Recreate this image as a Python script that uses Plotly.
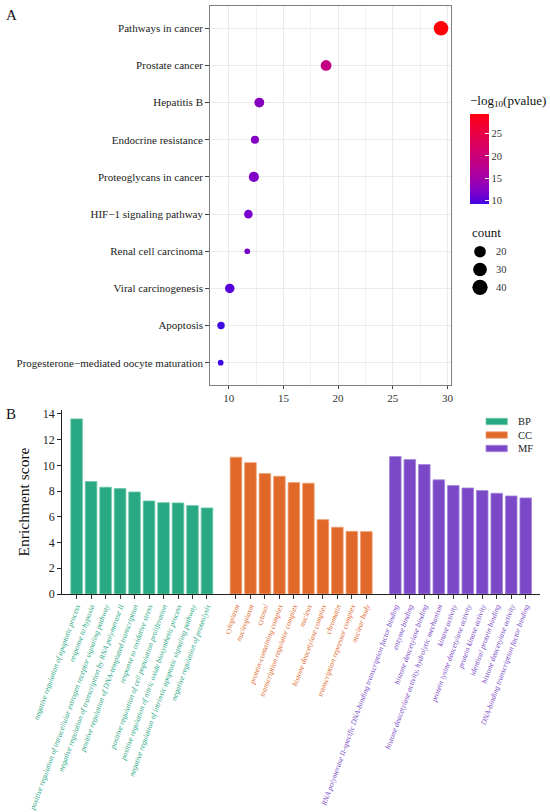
import numpy as np
import plotly.graph_objects as go

W, H = 550, 812
FONT = "Liberation Serif"

# ---------------- Panel A data (KEGG bubble chart) ----------------
kegg_terms = [
    "Pathways in cancer",
    "Prostate cancer",
    "Hepatitis B",
    "Endocrine resistance",
    "Proteoglycans in cancer",
    "HIF\u22121 signaling pathway",
    "Renal cell carcinoma",
    "Viral carcinogenesis",
    "Apoptosis",
    "Progesterone\u2212mediated oocyte maturation",
]
kegg_neglog10p = [29.4, 18.9, 12.8, 12.4, 12.3, 11.8, 11.7, 10.1, 9.3, 9.27]
kegg_count = [35, 17, 14, 10, 15, 11, 8, 13, 9, 8]
count_legend = [20, 30, 40]
cbar_ticks = [10, 15, 20, 25]

# ---------------- Panel B data (GO enrichment bars) ----------------
go_groups = ["BP", "CC", "MF"]
bp_terms = [
    "negative regulation of apoptotic process",
    "response to hypoxia",
    "positive regulation of intracellular estrogen receptor signaling pathway",
    "negative regulation of transcription by RNA polymerase II",
    "positive regulation of DNA-templated transcription",
    "response to oxidative stress",
    "positive regulation of cell population proliferation",
    "positive regulation of nitric oxide biosynthetic process",
    "negative regulation of intrinsic apoptotic signaling pathway",
    "negative regulation of proteolysis",
]
bp_scores = [13.61, 8.74, 8.30, 8.19, 7.93, 7.23, 7.10, 7.08, 6.87, 6.69]
cc_terms = [
    "cytoplasm",
    "nucleoplasm",
    "cytosol",
    "protein-containing complex",
    "transcription regulator complex",
    "nucleus",
    "histone deacetylase complex",
    "chromatin",
    "transcription repressor complex",
    "nuclear body",
]
cc_scores = [10.63, 10.21, 9.36, 9.15, 8.66, 8.61, 5.78, 5.19, 4.87, 4.85]
mf_terms = [
    "RNA polymerase II-specific DNA-binding transcription factor binding",
    "enzyme binding",
    "histone deacetylase binding",
    "histone deacetylase activity, hydrolytic mechanism",
    "kinase activity",
    "protein lysine deacetylase activity",
    "protein kinase activity",
    "identical protein binding",
    "histone deacetylase activity",
    "DNA-binding transcription factor binding",
]
mf_scores = [10.68, 10.45, 10.06, 8.87, 8.43, 8.24, 8.04, 7.83, 7.62, 7.47]

group_terms = [bp_terms, cc_terms, mf_terms]
group_scores = [bp_scores, cc_scores, mf_scores]
group_colors = ["#29a884", "#e0692a", "#7b49c7"]
group_edges = ["#6cc7a9", "#efa073", "#a486dc"]


# ---------------- helpers ----------------
def px_x(p):
    return p / W


def px_y(p):
    return 1 - p / H


def _lin(c):
    c = c / 255.0
    return np.where(c <= 0.04045, c / 12.92, ((c + 0.055) / 1.055) ** 2.4)


def _gam(c):
    c = np.clip(c, 0, 1)
    return np.where(c <= 0.0031308, 12.92 * c, 1.055 * c ** (1 / 2.4) - 0.055) * 255


M = np.array([[0.4124, 0.3576, 0.1805], [0.2126, 0.7152, 0.0722], [0.0193, 0.1192, 0.9505]])
WP = np.array([0.95047, 1.0, 1.08883])
d = 6 / 29


def rgb2lab(rgb):
    xyz = M @ _lin(np.array(rgb, float)) / WP
    f = np.where(xyz > d ** 3, np.cbrt(xyz), xyz / (3 * d * d) + 4 / 29)
    return np.array([116 * f[1] - 16, 500 * (f[0] - f[1]), 200 * (f[1] - f[2])])


def lab2rgb(lab):
    fy = (lab[0] + 16) / 116
    fx = fy + lab[1] / 500
    fz = fy - lab[2] / 200
    f = np.array([fx, fy, fz])
    xyz = np.where(f > d, f ** 3, 3 * d * d * (f - 4 / 29)) * WP
    rgb = _gam(np.linalg.solve(M, xyz))
    return "rgb(%d,%d,%d)" % tuple(np.round(rgb).astype(int))


lab_lo, lab_hi = rgb2lab([62, 8, 228]), rgb2lab([255, 0, 10])
colorscale = [[t, lab2rgb(lab_lo + (lab_hi - lab_lo) * t)] for t in np.linspace(0, 1, 21)]


def dot_size(c):
    return 5.7 + 1.7 * np.sqrt(np.maximum(np.asarray(c, float) - 8, 0))


fig = go.Figure()

# ---------------- Panel A ----------------
fig.add_trace(go.Scatter(
    x=kegg_neglog10p, y=kegg_terms, mode="markers", xaxis="x", yaxis="y",
    marker=dict(
        size=dot_size(kegg_count), color=kegg_neglog10p, colorscale=colorscale,
        cmin=min(kegg_neglog10p), cmax=max(kegg_neglog10p), line=dict(width=0),
        opacity=1, showscale=True,
        colorbar=dict(
            x=px_x(470), xanchor="left", xref="paper", xpad=0,
            y=px_y(204), yanchor="bottom", ypad=0,
            len=112 / H, lenmode="fraction", thickness=19,
            outlinewidth=0, tickvals=cbar_ticks, ticks="inside", ticklen=4,
            tickcolor="white", tickwidth=1,
            tickfont=dict(family=FONT, size=10.5, color="#333"),
            title=dict(text="\u2212log<sub>10</sub>(pvalue)", side="top",
                       font=dict(family=FONT, size=13, color="#111")),
        ),
    ),
    showlegend=False, hoverinfo="x+y",
))

# size legend (inset)
fig.add_trace(go.Scatter(
    x=[0] * len(count_legend), y=[str(c) for c in count_legend], mode="markers",
    xaxis="x5", yaxis="y5",
    marker=dict(size=dot_size(count_legend), color="#000000", opacity=1, line=dict(width=0)),
    showlegend=False, hoverinfo="skip",
))

# ---------------- Panel B ----------------
axis_names = ["x2", "x3", "x4"]
positions = []
for g, (terms, scores) in enumerate(zip(group_terms, group_scores)):
    pos = [g * (len(terms) + 1) + i for i in range(len(terms))]
    positions.append(pos)
    fig.add_trace(go.Bar(
        x=pos, y=scores, width=0.8, xaxis=axis_names[g], yaxis="y2",
        marker=dict(color=group_colors[g], line=dict(color=group_edges[g], width=0.8)),
        name=go_groups[g], showlegend=False, hovertext=terms,
    ))

n_slots = sum(len(t) for t in group_terms) + len(group_terms) - 1
xrange_b = [-1, n_slots]

layout = dict(
    template="none",
    width=W, height=H, autosize=False,
    margin=dict(l=0, r=0, t=0, b=0, pad=0),
    paper_bgcolor="white", plot_bgcolor="white",
    font=dict(family=FONT, color="#222"),
    barmode="overlay", showlegend=False,
    xaxis=dict(
        domain=[px_x(210.4), px_x(451.4)], anchor="y", automargin=False,
        range=[8.33, 30.35], tick0=10, dtick=5,
        showgrid=True, gridcolor="#ebebeb", gridwidth=1,
        minor=dict(dtick=2.5, tick0=10, showgrid=True, gridcolor="#f2f2f2", gridwidth=0.8),
        zeroline=False, showline=True, mirror=True, linecolor="#7f7f7f", linewidth=1.4,
        ticks="outside", ticklen=3, tickcolor="#444",
        tickfont=dict(family=FONT, size=11, color="#333"),
    ),
    yaxis=dict(
        domain=[px_y(385), px_y(6)], anchor="x", automargin=False,
        type="category", categoryorder="array", categoryarray=kegg_terms,
        range=[len(kegg_terms) - 0.4, -0.6],
        showgrid=True, gridcolor="#ebebeb", gridwidth=1,
        zeroline=False, showline=True, mirror=True, linecolor="#7f7f7f", linewidth=1.4,
        ticks="outside", ticklen=4, tickcolor="#444",
        tickfont=dict(family=FONT, size=11, color="#222"),
    ),
    xaxis5=dict(domain=[px_x(470), px_x(490)], anchor="y5", range=[-1, 1], visible=False,
                automargin=False),
    yaxis5=dict(domain=[px_y(296.2), px_y(242.8)], anchor="x5", type="category",
                categoryorder="array", categoryarray=[str(c) for c in count_legend],
                range=[len(count_legend) - 0.5, -0.5], automargin=False,
                side="right", showline=False, showgrid=False, zeroline=False, ticks="",
                showticklabels=True, ticklabelstandoff=5,
                tickfont=dict(family=FONT, size=10.5, color="#333")),
    yaxis2=dict(
        domain=[px_y(594), px_y(410)], anchor="x2", range=[0, 14.3], dtick=2,
        automargin=False,
        showgrid=False, zeroline=False, showline=True, linecolor="#222", linewidth=1,
        ticks="outside", ticklen=4, tickcolor="#222",
        tickfont=dict(family=FONT, size=12, color="#222"),
        title=dict(text="Enrichment score", standoff=9,
                   font=dict(family=FONT, size=15.5, color="#111")),
    ),
)

for g, ax in enumerate(axis_names):
    key = "xaxis" + ax[1:]
    spec = dict(
        range=xrange_b, anchor="y2", showgrid=False, zeroline=False, automargin=False,
        tickmode="array", tickvals=positions[g], ticktext=group_terms[g],
        tickangle=-70, ticks="outside", ticklen=4, tickcolor="#333",
        tickfont=dict(family=FONT, size=7.6, color=group_colors[g], style="italic"),
    )
    if g == 0:
        spec.update(domain=[px_x(62.1), px_x(540.2)], showline=True,
                    linecolor="#222", linewidth=1)
    else:
        spec.update(overlaying="x2", showline=False)
    layout[key] = spec

annotations = [
    dict(text="A", x=px_x(11), y=px_y(15), xref="paper", yref="paper",
         xanchor="center", yanchor="middle",
         showarrow=False, font=dict(family=FONT, size=15, color="#111")),
    dict(text="B", x=px_x(11), y=px_y(414), xref="paper", yref="paper",
         xanchor="center", yanchor="middle",
         showarrow=False, font=dict(family=FONT, size=15, color="#111")),
    dict(text="count", x=px_x(470), y=px_y(232.3), xref="paper", yref="paper",
         xanchor="left", yanchor="middle",
         showarrow=False, font=dict(family=FONT, size=13, color="#111")),
]

shapes = []
for i, grp in enumerate(go_groups):
    yc = 421.5 + 13.5 * i
    shapes.append(dict(type="rect", xref="paper", yref="paper",
                       x0=px_x(486), x1=px_x(507.3), y0=px_y(yc + 3.2), y1=px_y(yc - 3.2),
                       fillcolor=group_colors[i], line=dict(color=group_edges[i], width=0.8)))
    annotations.append(dict(text=grp, x=px_x(515.7), y=px_y(yc), xref="paper", yref="paper",
                            xanchor="left", yanchor="middle", showarrow=False,
                            font=dict(family=FONT, size=10.5, color="#222")))

layout["annotations"] = annotations
layout["shapes"] = shapes
fig.update_layout(**layout)

fig.write_html(
    "out.html",
    config={"displayModeBar": False},
    post_script="document.body.style.margin='0';document.body.style.padding='0';"
                "document.body.style.overflow='hidden';",
)
